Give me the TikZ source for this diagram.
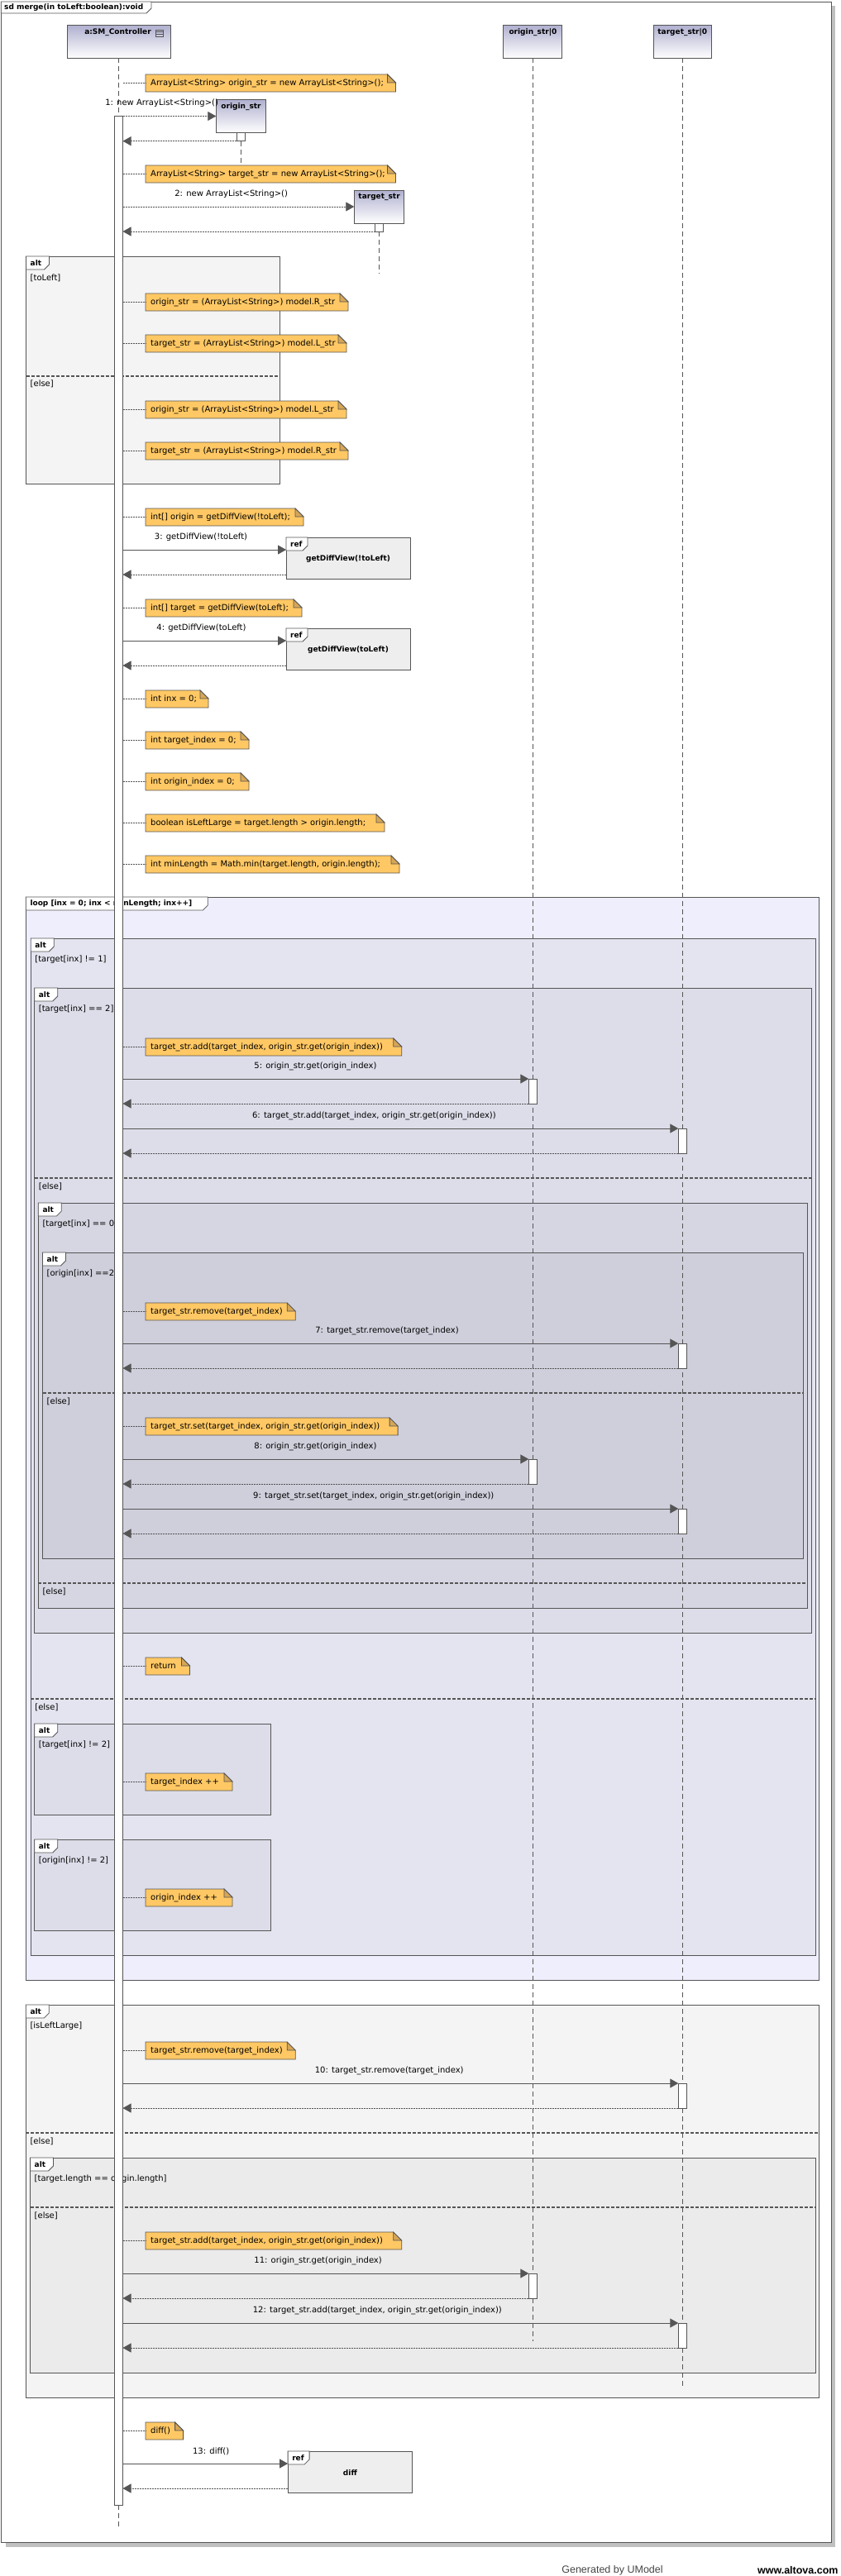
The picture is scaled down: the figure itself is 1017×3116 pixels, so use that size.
\documentclass[tikz,border=0pt]{standalone}
\usepackage{fontspec}
\setmainfont{DejaVu Sans}
\newfontfamily\footfont{Liberation Sans}
\usetikzlibrary{arrows.meta}
\definecolor{linec}{HTML}{555555}
\definecolor{notec}{HTML}{FFC864}
\definecolor{foldc}{HTML}{D6A655}
\definecolor{hdrc}{HTML}{B0B0D0}
\definecolor{altc}{HTML}{F4F4F4}
\definecolor{loopc}{HTML}{EEEEFC}
\definecolor{altbc}{HTML}{E4E4F0}
\definecolor{altcc}{HTML}{DDDDEA}
\definecolor{altdc}{HTML}{D6D6E3}
\definecolor{altec}{HTML}{CFCFDC}
\definecolor{altic}{HTML}{EBEBEB}
\definecolor{refc}{HTML}{EEEEEE}
\definecolor{shadc}{HTML}{C0C0C0}
\newcommand\ufontr{\fontsize{10}{12}\selectfont}
\newcommand\ufontb{\fontsize{9}{11}\selectfont\bfseries}
\tikzset{
  fragbox/.style={draw=linec, line width=1pt, inner sep=0pt, outer sep=0pt},
  tabshape/.style={fill=white, draw=linec, line width=0.8pt},
  tabtxt/.style={font=\ufontb, anchor=west, inner sep=0pt},
  guard/.style={font=\ufontr, anchor=west, inner sep=0pt},
  sepline/.style={draw=linec, line width=1.3pt, dash pattern=on 4pt off 2pt},
  lifeline/.style={draw=linec, line width=1.3pt, dash pattern=on 6pt off 4pt},
  actbar/.style={draw=linec, fill=white, line width=0.8pt, inner sep=0pt, outer sep=0pt, minimum width=10pt},
  call/.style={draw=linec, line width=1pt, -{Triangle[length=10pt,width=11pt]}},
  ret/.style={draw=linec, line width=0.8pt, dash pattern=on 2pt off 1pt, -{Triangle[length=10pt,width=11pt]}},
  notebody/.style={fill=notec, draw=linec, line width=0.8pt},
  notefold/.style={fill=foldc, draw=linec, line width=0.8pt},
  noteconn/.style={draw=linec, line width=0.7pt, dash pattern=on 2pt off 1pt},
  notetext/.style={font=\ufontr, anchor=west, inner xsep=6pt, inner ysep=0pt},
  msglabel/.style={font=\ufontr, inner sep=0pt},
  header/.style={draw=linec, line width=1pt, top color=hdrc, bottom color=white, inner sep=0pt, outer sep=0pt, anchor=north west},
  hdrtext/.style={font=\ufontb, inner sep=0pt},
  refbox/.style={draw=linec, fill=refc, line width=1pt, inner sep=0pt, outer sep=0pt, anchor=north west},
}
% fragment: name, x1, y1, x2, y2, fill, tab width, tab text
\newcommand\ufrag[8]{%
  \node[fragbox, fill=#6, minimum width={#4-#2}, minimum height={#5-#3}, anchor=north west] (#1) at (#2,#3) {};
  \filldraw[tabshape] (#2,#3) -- (#2+#7,#3) -- (#2+#7,#3+10) -- (#2+#7-6,#3+16) -- (#2,#3+16) -- cycle;
  \node[tabtxt] (#1tab) at (#2+5,#3+8.5) {#8};
}
% guard: name, frame, y, text
\newcommand\uguard[4]{\node[guard] (#1) at ([xshift=5pt]#2.west |- 0,#3) {#4};}
% separator: frame, y
\newcommand\usep[2]{\draw[sepline] (#1.west |- 0,#2) -- (#1.east |- 0,#2);}
% note: name, x, ytop, xright, text
\newcommand\unote[5]{%
  \filldraw[notebody] (#2,#3) -- (#4-10,#3) -- (#4,#3+10) -- (#4,#3+21) -- (#2,#3+21) -- cycle;
  \filldraw[notefold] (#4-10,#3) -- (#4-10,#3+10) -- (#4,#3+10) -- cycle;
  \node[notetext] (#1) at (#2,#3+10.5) {#5};
  \draw[noteconn] (bar.east |- #1.west) -- (#1.west);
}
% ref: name, x, y, width, text
\newcommand\uref[5]{%
  \node[refbox, minimum width=#4, minimum height=50] (#1) at (#2,#3) {};
  \filldraw[tabshape] (#2,#3) -- (#2+26,#3) -- (#2+26,#3+10) -- (#2+20,#3+16) -- (#2,#3+16) -- cycle;
  \node[tabtxt] (#1tab) at (#2+5,#3+8.5) {ref};
  \node[font=\ufontb, inner sep=0pt] (#1txt) at (#2+#4/2,#3+26) {#5};
  \coordinate (#1i) at (#2,#3+15);
  \coordinate (#1o) at (#2,#3+45);
}
% call with activation: act name, label name, label x, label y, label text
\newcommand\ucall[5]{%
  \draw[call] (bar.east |- #1.north) -- (#1.north west);
  \draw[ret] (#1.south west) -- (bar.east |- #1.south);
  \node[msglabel] (#2) at (#3,#4) {#5};
}
\begin{document}
\begin{tikzpicture}[x=1pt,y=-1pt]
\useasboundingbox (0,0) rectangle (1017,3116);
% outer frame
\fill[shadc] (6.5,7) rectangle (1010.4,3081);
\node[draw=linec, fill=white, line width=1pt, inner sep=0pt, minimum width=1003.3, minimum height=3073, anchor=north west] (sd) at (1.3,2) {};
\filldraw[tabshape] (1.3,2) -- (183,2) -- (183,10) -- (177,16) -- (1.3,16) -- cycle;
\node[tabtxt] (sdtab) at (5,9) {sd merge(in toLeft:boolean):void};
% headers
\node[header, minimum width=125.4, minimum height=40] (ctrl) at (81.3,30.3) {};
\node[hdrtext, anchor=north] (ctrlt) at (142.5,34) {a:SM\_Controller};
\draw[linec, line width=0.8pt] (188,36) rectangle (197,44) (188,38.7) -- (197,38.7) (188,41.3) -- (197,41.3);
\node[header, minimum width=71, minimum height=40] (orig) at (608.9,30.3) {};
\node[hdrtext, anchor=north] (origt) at (644.4,34) {origin\_str|0};
\node[header, minimum width=70.4, minimum height=40] (targ) at (790.1,30.3) {};
\node[hdrtext, anchor=north] (targt) at (825.3,34) {target\_str|0};
% fragments
\ufrag{fA}{31.5}{310}{338}{585}{altc}{28}{alt}
\uguard{gA1}{fA}{336}{[toLeft]}
\usep{fA}{455}
\uguard{gA2}{fA}{464}{[else]}
\ufrag{fL}{31.3}{1085}{990.9}{2395}{loopc}{220}{loop [inx = 0; inx < minLength; inx++]}
\ufrag{fB}{37.2}{1135}{986.3}{2365}{altbc}{28}{alt}
\uguard{gB1}{fB}{1161}{[target[inx] != 1]}
\usep{fB}{2055}
\uguard{gB2}{fB}{2065}{[else]}
\ufrag{fC}{41.7}{1195}{981.1}{1975}{altcc}{28}{alt}
\uguard{gC1}{fC}{1221}{[target[inx] == 2]}
\usep{fC}{1425}
\uguard{gC2}{fC}{1435}{[else]}
\ufrag{fD}{46.3}{1455}{976.5}{1945}{altdc}{28}{alt}
\uguard{gD1}{fD}{1481}{[target[inx] == 0]}
\usep{fD}{1915}
\uguard{gD2}{fD}{1925}{[else]}
\ufrag{fE}{51.5}{1515}{971.3}{1885}{altec}{28}{alt}
\uguard{gE1}{fE}{1541}{[origin[inx] ==2]}
\usep{fE}{1685}
\uguard{gE2}{fE}{1695}{[else]}
\ufrag{fF}{41.7}{2085}{327.9}{2195}{altcc}{28}{alt}
\uguard{gF1}{fF}{2111}{[target[inx] != 2]}
\ufrag{fG}{41.7}{2225}{327.9}{2335}{altcc}{28}{alt}
\uguard{gG1}{fG}{2251}{[origin[inx] != 2]}
\ufrag{fH}{31.3}{2425}{990.9}{2900}{altc}{28}{alt}
\uguard{gH1}{fH}{2451}{[isLeftLarge]}
\usep{fH}{2580}
\uguard{gH2}{fH}{2590}{[else]}
\ufrag{fI}{36.5}{2610}{986.3}{2870}{altic}{28}{alt}
\uguard{gI1}{fI}{2636}{[target.length == origin.length]}
\usep{fI}{2670}
\uguard{gI2}{fI}{2680}{[else]}
% lifelines
\coordinate (oend) at (644.4,2832);
\coordinate (tend) at (825.3,2890);
\coordinate (cend) at (143.5,3058);
\draw[lifeline] (orig.south) -- (oend);
\draw[lifeline] (targ.south) -- (tend);
\node[actbar, minimum height=2890, anchor=north] (bar) at (143.5,140) {};
\draw[lifeline] (ctrl.south -| bar.north) -- (bar.north);
\draw[lifeline] (bar.south) -- (cend);
% created objects
\node[header, minimum width=60.4, minimum height=40.4] (ostr) at (261.3,120.3) {};
\node[hdrtext, anchor=north] (ostrt) at (291.5,124) {origin\_str};
\node[actbar, minimum height=10, anchor=north] (a1) at (291.3,160.7) {};
\coordinate (a1end) at (291.3,197);
\draw[lifeline] (a1.south) -- (a1end);
\node[header, minimum width=60.6, minimum height=40] (tstr) at (428.3,230) {};
\node[hdrtext, anchor=north] (tstrt) at (458.6,234) {target\_str};
\node[actbar, minimum height=10, anchor=north] (a2) at (458.6,270) {};
\coordinate (a2end) at (458.6,331);
\draw[lifeline] (a2.south) -- (a2end);
% activations on lifelines
\node[actbar, minimum width=10.5, minimum height=30, anchor=north] (a5) at (644.6,1305) {};
\node[actbar, minimum height=30, anchor=north] (a6) at (825.3,1365) {};
\node[actbar, minimum height=30, anchor=north] (a7) at (825.3,1625) {};
\node[actbar, minimum width=10.5, minimum height=30, anchor=north] (a8) at (644.6,1765) {};
\node[actbar, minimum height=30, anchor=north] (a9) at (825.3,1825) {};
\node[actbar, minimum height=30, anchor=north] (a10) at (825.3,2520) {};
\node[actbar, minimum width=10.5, minimum height=30, anchor=north] (a11) at (644.6,2750) {};
\node[actbar, minimum height=30, anchor=north] (a12) at (825.3,2810) {};
% notes
\unote{n1}{176}{90}{478.5}{ArrayList<String> origin\_str = new ArrayList<String>();}
\unote{n2}{176}{200}{478.5}{ArrayList<String> target\_str = new ArrayList<String>();}
\unote{n3}{176}{355}{421}{origin\_str = (ArrayList<String>) model.R\_str}
\unote{n4}{176}{405}{419}{target\_str = (ArrayList<String>) model.L\_str}
\unote{n5}{176}{485}{419}{origin\_str = (ArrayList<String>) model.L\_str}
\unote{n6}{176}{535}{421}{target\_str = (ArrayList<String>) model.R\_str}
\unote{n7}{176}{615}{367}{int[] origin = getDiffView(!toLeft);}
\unote{n8}{176}{725}{365}{int[] target = getDiffView(toLeft);}
\unote{n9}{176}{835}{252}{int inx = 0;}
\unote{n10}{176}{885}{301}{int target\_index = 0;}
\unote{n11}{176}{935}{301}{int origin\_index = 0;}
\unote{n12}{176}{985}{465}{boolean isLeftLarge = target.length > origin.length;}
\unote{n13}{176}{1035}{483}{int minLength = Math.min(target.length, origin.length);}
\unote{n14}{176}{1256}{485.7}{target\_str.add(target\_index, origin\_str.get(origin\_index))}
\unote{n15}{176}{1576}{357.2}{target\_str.remove(target\_index)}
\unote{n16}{176}{1715}{481.1}{target\_str.set(target\_index, origin\_str.get(origin\_index))}
\unote{n17}{176}{2005}{229.5}{return}
\unote{n18}{176}{2145}{281}{target\_index ++}
\unote{n19}{176}{2285}{281}{origin\_index ++}
\unote{n20}{176}{2470}{357.2}{target\_str.remove(target\_index)}
\unote{n21}{176}{2700}{485.7}{target\_str.add(target\_index, origin\_str.get(origin\_index))}
\unote{n22}{176}{2930}{221.6}{diff()}
% refs
\uref{r1}{346}{650}{150}{getDiffView(!toLeft)}
\uref{r2}{346}{760}{150}{getDiffView(toLeft)}
\uref{r3}{348.1}{2965}{150.6}{diff}
% messages
\draw[ret] (bar.east |- ostr.west) -- (ostr.west);
\draw[ret] (a1.south west) -- (bar.east |- a1.south);
\node[msglabel] (l1) at (195.6,125) {1: new ArrayList<String>()};
\draw[ret] (bar.east |- tstr.west) -- (tstr.west);
\draw[ret] (a2.south west) -- (bar.east |- a2.south);
\node[msglabel] (l2) at (279.7,235) {2: new ArrayList<String>()};
\draw[call] (bar.east |- r1i) -- (r1i);
\draw[ret] (r1o) -- (bar.east |- r1o);
\node[msglabel] (l3) at (243,650) {3: getDiffView(!toLeft)};
\draw[call] (bar.east |- r2i) -- (r2i);
\draw[ret] (r2o) -- (bar.east |- r2o);
\node[msglabel] (l4) at (243.5,760) {4: getDiffView(toLeft)};
\ucall{a5}{l5}{381.4}{1290}{5: origin\_str.get(origin\_index)}
\ucall{a6}{l6}{452.4}{1350}{6: target\_str.add(target\_index, origin\_str.get(origin\_index))}
\ucall{a7}{l7}{468}{1610}{7: target\_str.remove(target\_index)}
\ucall{a8}{l8}{381.4}{1750}{8: origin\_str.get(origin\_index)}
\ucall{a9}{l9}{451.8}{1810}{9: target\_str.set(target\_index, origin\_str.get(origin\_index))}
\ucall{a10}{l10}{470.7}{2505}{10: target\_str.remove(target\_index)}
\ucall{a11}{l11}{384.6}{2735}{11: origin\_str.get(origin\_index)}
\ucall{a12}{l12}{456.3}{2795}{12: target\_str.add(target\_index, origin\_str.get(origin\_index))}
\draw[call] (bar.east |- r3i) -- (r3i);
\draw[ret] (r3o) -- (bar.east |- r3o);
\node[msglabel] (l13) at (255.2,2965) {13: diff()};
% footer
\node[font=\footfont\fontsize{12.5}{14}\selectfont, text=linec!80!black, inner sep=0pt] (gen) at (740.5,3109) {Generated by UModel};
\node[font=\footfont\fontsize{12.5}{14}\selectfont\bfseries, text=black, inner sep=0pt] (www) at (964.8,3109) {www.altova.com};
\end{tikzpicture}
\end{document}
